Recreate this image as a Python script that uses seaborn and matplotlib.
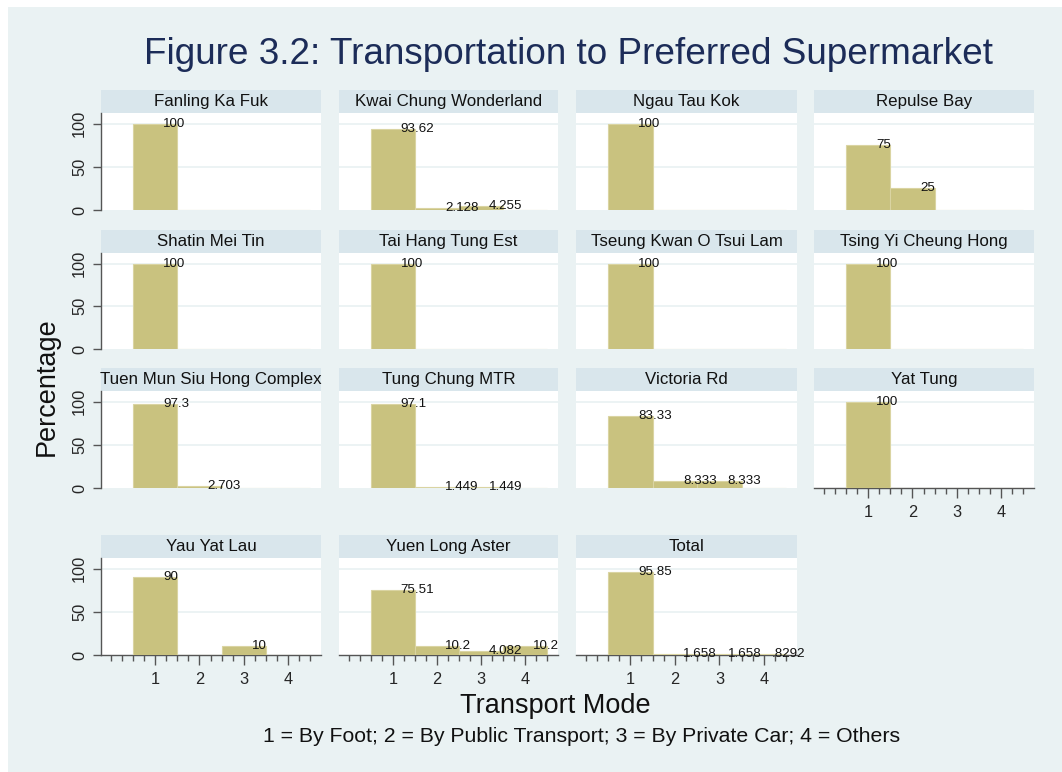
import matplotlib
matplotlib.use("Agg")
import matplotlib.pyplot as plt
import seaborn as sns
import pandas as pd
import numpy as np
from matplotlib.patches import Rectangle

# ---------------- data ----------------
sites = ["Fanling Ka Fuk", "Kwai Chung Wonderland", "Ngau Tau Kok", "Repulse Bay",
         "Shatin Mei Tin", "Tai Hang Tung Est", "Tseung Kwan O Tsui Lam", "Tsing Yi Cheung Hong",
         "Tuen Mun Siu Hong Complex", "Tung Chung MTR", "Victoria Rd", "Yat Tung",
         "Yau Yat Lau", "Yuen Long Aster", "Total"]
modes = [1, 2, 3, 4]
fanling = [100, 0, 0, 0]
kwai_chung = [93.62, 2.128, 4.255, 0]
ngau_tau_kok = [100, 0, 0, 0]
repulse_bay = [75, 25, 0, 0]
shatin = [100, 0, 0, 0]
tai_hang = [100, 0, 0, 0]
tseung_kwan_o = [100, 0, 0, 0]
tsing_yi = [100, 0, 0, 0]
tuen_mun = [97.3, 2.703, 0, 0]
tung_chung = [97.1, 1.449, 1.449, 0]
victoria = [83.33, 8.333, 8.333, 0]
yat_tung = [100, 0, 0, 0]
yau_yat_lau = [90, 0, 10, 0]
yuen_long = [75.51, 10.2, 4.082, 10.2]
total = [95.85, 1.658, 1.658, 0.8292]
values = [fanling, kwai_chung, ngau_tau_kok, repulse_bay, shatin, tai_hang, tseung_kwan_o,
          tsing_yi, tuen_mun, tung_chung, victoria, yat_tung, yau_yat_lau, yuen_long, total]
yticks = [0, 50, 100]
xticks = [1, 2, 3, 4]

title = "Figure 3.2: Transportation to Preferred Supermarket"
ylabel = "Percentage"
xlabel = "Transport Mode"
note = "1 = By Foot; 2 = By Public Transport; 3 = By Private Car; 4 = Others"

rows = []
for s, vals in zip(sites, values):
    for m, v in zip(modes, vals):
        rows.append({"Site": s, "Mode": m, "Percent": v})
df = pd.DataFrame(rows)

# ---------------- style ----------------
sns.set_style("white")
plt.rcParams["font.family"] = ["Liberation Sans", "DejaVu Sans"]

BG = "#EAF2F3"
HEAD = "#D9E6EC"
BAR = "#C9C27F"
BAR_EDGE = "#DAD4A2"
AXC = "#555555"

W, H = 1062, 772
fig = plt.figure(figsize=(W / 100, H / 100), dpi=100, facecolor="white")
fig.patches.append(Rectangle((8 / W, 0), 1 - 8 / W, 1 - 7 / H, transform=fig.transFigure,
                             facecolor=BG, edgecolor="none", zorder=-10))

def fx(x):
    return x / W

def fy(y):
    return 1 - y / H

col_x = [(101, 321), (339, 558), (576, 797), (814, 1034)]
row_y = [(113, 210), (253, 349), (391, 488), (558, 655)]
header_h = 23

def fmt(v):
    s = f"{v:.4g}"
    if s.startswith("0."):
        s = s[1:]
    return s

for i, site in enumerate(sites):
    r, c = divmod(i, 4)
    x0, x1 = col_x[c]
    y0, y1 = row_y[r]
    ax = fig.add_axes([fx(x0), fy(y1), fx(x1 - x0), (y1 - y0) / H])
    ax.set_facecolor("white")
    sub = df[df["Site"] == site]
    sns.barplot(data=sub, x="Mode", y="Percent", native_scale=True, width=1,
                color=BAR, saturation=1, edgecolor=BAR_EDGE, linewidth=0.8,
                errorbar=None, ax=ax, zorder=3)
    ax.set_xlim(-0.22, 4.74)
    ax.set_ylim(0, 112.5)
    ax.set_xlabel("")
    ax.set_ylabel("")
    for g in [50, 100]:
        ax.axhline(g, color=BG, lw=1.3, zorder=1)
    for m, v in zip(sub["Mode"], sub["Percent"]):
        if v > 0:
            ax.text(m + 0.18, v, fmt(v), ha="left", va="center", fontsize=9.6,
                    color="#111111", zorder=5)
    # header strip
    hh = header_h / (y1 - y0)
    ax.add_patch(Rectangle((0, 1), 1, hh, transform=ax.transAxes, facecolor=HEAD,
                           edgecolor="none", clip_on=False, zorder=0))
    ax.text(0.5, 1 + hh / 2, site, transform=ax.transAxes, ha="center", va="center",
            fontsize=12.2, color="#111111")
    for sp in ax.spines.values():
        sp.set_visible(False)
    bottom_panel = (r == 3) or (r == 2 and c == 3)
    if c == 0:
        ax.spines["left"].set_visible(True)
        ax.spines["left"].set_color(AXC)
        ax.spines["left"].set_linewidth(1.0)
        ax.set_yticks(yticks)
        ax.set_yticklabels([str(t) for t in yticks], rotation=90, va="center", fontsize=11.8)
        ax.tick_params(axis="y", direction="out", length=6, width=1, color=AXC, pad=4,
                       left=True, labelleft=True)
    else:
        ax.set_yticks([])
    if bottom_panel:
        ax.spines["bottom"].set_visible(True)
        ax.spines["bottom"].set_color(AXC)
        ax.spines["bottom"].set_linewidth(1.0)
        ax.set_xticks(xticks)
        ax.set_xticklabels([str(t) for t in xticks], fontsize=11.8)
        ax.set_xticks(np.arange(0, 4.51, 0.25), minor=True)
        ax.tick_params(axis="x", which="major", direction="out", length=7, width=1,
                       color=AXC, pad=5, bottom=True, labelbottom=True)
        ax.tick_params(axis="x", which="minor", direction="out", length=4, width=1,
                       color=AXC, bottom=True)
    else:
        ax.set_xticks([])
        ax.set_xticks([], minor=True)

fig.text(fx(568), fy(55), title, ha="center", va="center", fontsize=26.6, color="#1C2C58")
fig.text(fx(47), fy(387), ylabel, ha="center", va="center", rotation=90, fontsize=19.5,
         color="#111111")
fig.text(fx(555), fy(706), xlabel, ha="center", va="center", fontsize=19.5, color="#111111")
fig.text(fx(582), fy(736), note, ha="center", va="center", fontsize=15.3, color="#111111")

fig.savefig("out.png", dpi=100, facecolor=fig.get_facecolor())
